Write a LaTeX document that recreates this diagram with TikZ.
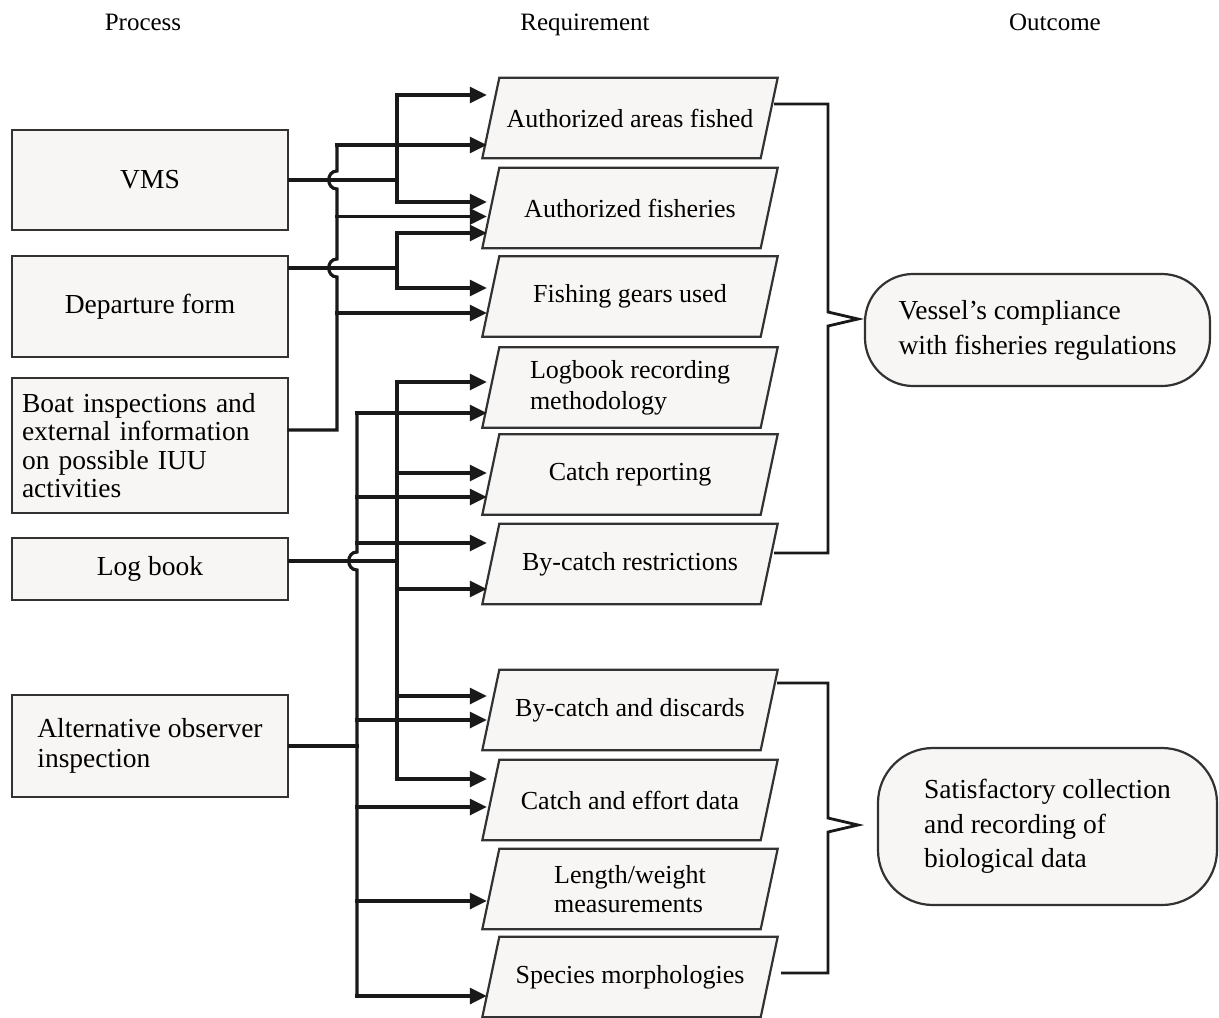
\documentclass[tikz,border=0pt]{standalone}
\usepackage{fontspec}
\setmainfont{Liberation Serif}
\usetikzlibrary{arrows.meta,backgrounds,calc}
\definecolor{boxfill}{RGB}{248,246,244}
\definecolor{edgecol}{RGB}{50,50,50}
\definecolor{wirecol}{RGB}{25,25,25}
\begin{document}
\begin{tikzpicture}[x=1pt,y=-1pt,
  procbox/.style={draw=edgecol, line width=2.2pt, fill=boxfill, minimum width=276pt, inner sep=0pt,
    font=\fontsize{27.5}{30}\selectfont},
  reqbox/.style={minimum width=278pt, minimum height=78pt, inner sep=0pt, align=left,
    font=\fontsize{26}{31}\selectfont},
  outbox/.style={draw=edgecol, line width=2.2pt, fill=boxfill, inner sep=0pt, align=left},
  head/.style={font=\fontsize{25}{30}\selectfont, anchor=base},
  wire/.style={draw=wirecol, line width=3.2pt, line cap=rect},
  arr/.style={wire, -{Triangle[length=17pt,width=16pt]}},
  brk/.style={draw=wirecol, line width=2.8pt},
  para/.style={draw=edgecol, line width=2.2pt, fill=boxfill}
]
\useasboundingbox (0,0) rectangle (1219,1018);

% headers
\node[head] (hp) at (143,30) {Process};
\node[head] (hr) at (585,30) {Requirement};
\node[head] (ho) at (1055,30) {Outcome};

% process boxes
\node[procbox, minimum height=100pt] (vms) at (150,180) {VMS};
\node[procbox, minimum height=101pt] (dep) at (150,306.5) {Departure form};
\node[procbox, minimum height=135pt, text width=256pt, align=left,
  font=\fontsize{27.5}{28.5}\selectfont] (boat) at (150,445.5)
  {Boat inspections and\\external information\\on possible IUU\\activities};
\node[procbox, minimum height=62pt] (log) at (150,569) {Log book};
\node[procbox, minimum height=102pt, align=left] (alt) at (150,746) {Alternative observer\\inspection};

% requirement boxes
\node[reqbox] (r1) at (630,118) {Authorized areas fished};
\node[reqbox] (r2) at (630,208) {Authorized fisheries};
\node[reqbox] (r3) at (630,296.5) {Fishing gears used};
\node[reqbox] (r4) at (630,387.5) {Logbook recording\\methodology};
\node[reqbox] (r5) at (630,474.5) {Catch reporting};
\node[reqbox] (r6) at (630,564) {By-catch restrictions};
\node[reqbox] (r7) at (630,710) {By-catch and discards};
\node[reqbox] (r8) at (630,800) {Catch and effort data};
\node[reqbox, font=\fontsize{26}{29}\selectfont] (r9) at (630,889) {Length/weight\\measurements};
\node[reqbox] (r10) at (630,977) {Species morphologies};

\begin{scope}[on background layer]
\foreach \r in {r1,r2,r3,r4,r5,r6,r7,r8,r9,r10}{
  \draw[para] ([xshift=-8.5pt,yshift=-1pt]\r.south west) -- ([xshift=8.5pt,yshift=1pt]\r.north west)
    -- ([xshift=8.5pt,yshift=1pt]\r.north east) -- ([xshift=-8.5pt,yshift=-1pt]\r.south east) -- cycle;
}
\end{scope}

% outcome boxes
\node[outbox, minimum width=345pt, minimum height=112pt, rounded corners=48pt,
  font=\fontsize{27.5}{35}\selectfont] (o1) at (1037.5,330)
  {Vessel's compliance\\with fisheries regulations};
\node[outbox, minimum width=339pt, minimum height=157pt, rounded corners=55pt,
  font=\fontsize{27.5}{34.5}\selectfont] (o2) at (1047.5,826.5)
  {Satisfactory collection\\and recording of\\biological data};

% bus positions
\coordinate (busA) at (397,0);
\coordinate (busB) at (337,0);
\coordinate (busC) at (357,0);

% arrow targets
\coordinate (t1a) at ([xshift=-4pt,yshift=23pt]r1.west);
\coordinate (t1b) at ([xshift=-4pt,yshift=-27pt]r1.west);
\coordinate (t2a) at ([xshift=-4pt,yshift=6pt]r2.west);
\coordinate (t2b) at ([xshift=-4pt,yshift=-8.5pt]r2.west);
\coordinate (t2c) at ([xshift=-4pt,yshift=-25pt]r2.west);
\coordinate (t3a) at ([xshift=-4pt,yshift=8.5pt]r3.west);
\coordinate (t3b) at ([xshift=-4pt,yshift=-16.5pt]r3.west);
\coordinate (t4a) at ([xshift=-4pt,yshift=5.5pt]r4.west);
\coordinate (t4b) at ([xshift=-4pt,yshift=-25.5pt]r4.west);
\coordinate (t5a) at ([xshift=-4pt,yshift=1.5pt]r5.west);
\coordinate (t5b) at ([xshift=-4pt,yshift=-22.5pt]r5.west);
\coordinate (t6a) at ([xshift=-4pt,yshift=21pt]r6.west);
\coordinate (t6b) at ([xshift=-4pt,yshift=-25pt]r6.west);
\coordinate (t7a) at ([xshift=-4pt,yshift=14pt]r7.west);
\coordinate (t7b) at ([xshift=-4pt,yshift=-10pt]r7.west);
\coordinate (t8a) at ([xshift=-4pt,yshift=21pt]r8.west);
\coordinate (t8b) at ([xshift=-4pt,yshift=-7pt]r8.west);
\coordinate (t9a) at ([xshift=-4pt,yshift=-12pt]r9.west);
\coordinate (t10a) at ([xshift=-4pt,yshift=-19pt]r10.west);

% source outlets
\coordinate (vmsout) at (vms.east);
\coordinate (depout) at ([yshift=38.5pt]dep.east);
\coordinate (boatout) at ([yshift=15.5pt]boat.east);
\coordinate (logout) at ([yshift=8pt]log.east);
\coordinate (altout) at (alt.east);

% VMS
\draw[wire] (vmsout) -- (busA |- vmsout);
\draw[wire] (busA |- t1a) -- (busA |- t2a);
\draw[arr] (busA |- t1a) -- (t1a);
\draw[arr] (busA |- t2a) -- (t2a);

% Departure form
\draw[wire] (depout) -- (busA |- depout);
\draw[wire] (busA |- t2c) -- (busA |- t3a);
\draw[arr] (busA |- t2c) -- (t2c);
\draw[arr] (busA |- t3a) -- (t3a);

% Boat inspections (bus with hops)
\draw[wire] (boatout) -- (busB |- boatout)
  -- ($(busB |- depout)+(0,9)$) .. controls +(-11,0) and +(-11,0) .. ($(busB |- depout)+(0,-9)$)
  -- ($(busB |- vmsout)+(0,9)$) .. controls +(-11,0) and +(-11,0) .. ($(busB |- vmsout)+(0,-9)$)
  -- (busB |- t1b);
\draw[arr] (busB |- t1b) -- (t1b);
\draw[arr] (busB |- t2b) -- (t2b);
\draw[arr] (busB |- t3b) -- (t3b);

% Log book
\draw[wire] (logout) -- (busA |- logout);
\draw[wire] (busA |- t4a) -- (busA |- t8a);
\draw[arr] (busA |- t4a) -- (t4a);
\draw[arr] (busA |- t5a) -- (t5a);
\draw[arr] (busA |- t6b) -- (t6b);
\draw[arr] (busA |- t7a) -- (t7a);
\draw[arr] (busA |- t8a) -- (t8a);

% Alternative observer (bus with hop)
\draw[wire] (altout) -- (busC |- altout);
\draw[wire] (busC |- t4b)
  -- ($(busC |- logout)+(0,-9)$) .. controls +(-11,0) and +(-11,0) .. ($(busC |- logout)+(0,9)$)
  -- (busC |- t10a);
\draw[arr] (busC |- t4b) -- (t4b);
\draw[arr] (busC |- t5b) -- (t5b);
\draw[arr] (busC |- t6a) -- (t6a);
\draw[arr] (busC |- t7b) -- (t7b);
\draw[arr] (busC |- t8b) -- (t8b);
\draw[arr] (busC |- t9a) -- (t9a);
\draw[arr] (busC |- t10a) -- (t10a);

% brackets
\coordinate (b1s) at ([xshift=5pt,yshift=14pt]r1.east);
\coordinate (b1e) at ([xshift=5pt,yshift=11pt]r6.east);
\coordinate (tip1) at (858,319);
\draw[brk] (b1s) -- (828,104) -- (828,312) -- (tip1) -- (828,326) -- (828,553) -- (b1e);
\coordinate (b2s) at ([xshift=8pt,yshift=27pt]r7.east);
\coordinate (b2e) at ([xshift=12pt,yshift=4pt]r10.east);
\coordinate (tip2) at (858,825);
\draw[brk] (b2s) -- (828,683) -- (828,818) -- (tip2) -- (828,832) -- (828,973) -- (b2e);
\end{tikzpicture}
\end{document}
